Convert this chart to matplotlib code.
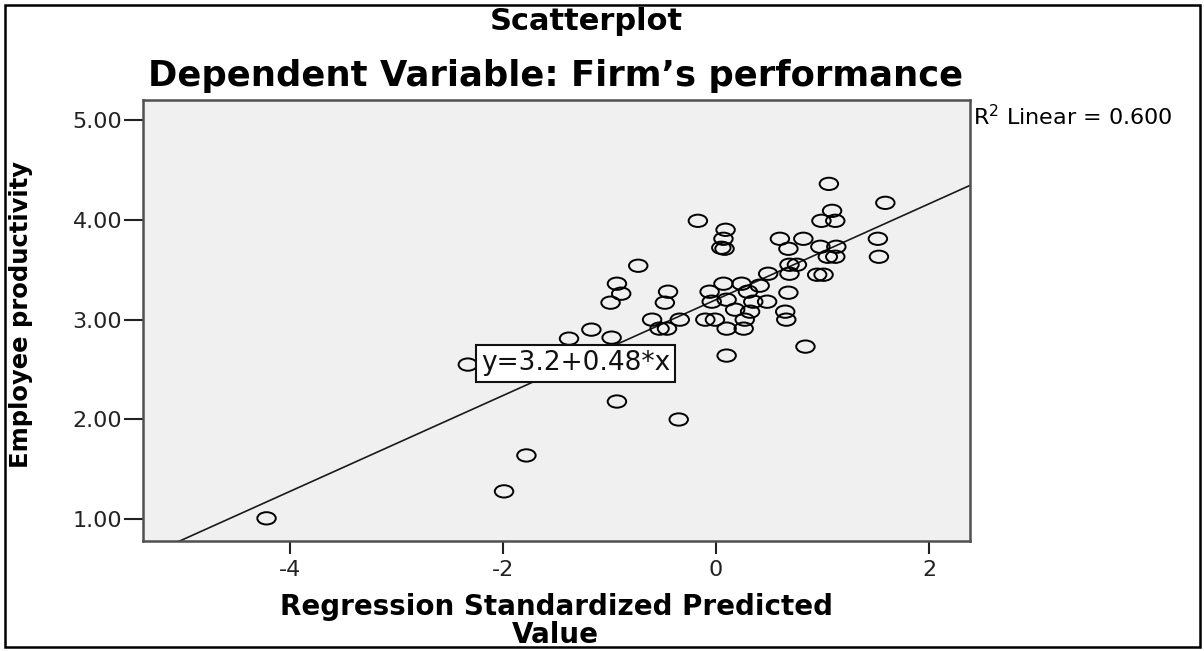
import numpy as np
import matplotlib.pyplot as plt
from matplotlib.path import Path
from matplotlib.transforms import Affine2D
from matplotlib.patches import Rectangle

# regression standardized predicted value (x) and employee productivity (y)
pred_value = [-4.22, -1.99, -1.78, -2.33, -0.99, -0.48, -1.38, -1.17, -0.98, -0.60,
              -0.53, -0.46, -0.34, -0.93, -0.35, -0.17, 0.09, 0.07, 0.05, 0.08,
              -0.73, -0.93, -0.89, -0.45, 0.10, 0.60, 0.82, 0.68, 0.99, 0.76,
              0.69, 0.49, 0.95, 0.41, 0.68, 0.48, 0.65, 0.66, 0.84, 0.07,
              0.24, -0.06, 0.30, -0.04, 0.10, 0.18, 0.35, 0.32, -0.10, -0.01,
              0.10, 0.26, 1.06, 1.59, 1.09, 1.12, 0.98, 1.13, 1.52, 1.05,
              1.12, 1.53, 0.69, 1.01, 0.27]
productivity = [1.01, 1.28, 1.64, 2.55, 3.17, 3.17, 2.81, 2.90, 2.82, 3.00,
                2.91, 2.91, 3.00, 2.18, 2.00, 3.99, 3.90, 3.81, 3.72, 3.71,
                3.54, 3.36, 3.26, 3.28, 2.64, 3.81, 3.81, 3.71, 3.99, 3.55,
                3.46, 3.46, 3.45, 3.34, 3.27, 3.18, 3.08, 3.00, 2.73, 3.36,
                3.36, 3.28, 3.28, 3.18, 3.20, 3.10, 3.18, 3.08, 3.00, 3.00,
                2.91, 2.91, 4.36, 4.17, 4.09, 3.99, 3.73, 3.73, 3.81, 3.63,
                3.63, 3.63, 3.55, 3.45, 3.00]

INTERCEPT = 3.2
SLOPE = 0.48
R2 = 0.600
y_ticks = [1, 2, 3, 4, 5]
x_ticks = [-4, -2, 0, 2]

W, H = 1204, 651
fig = plt.figure(figsize=(W / 100, H / 100), dpi=100)
plt.rcParams['font.family'] = ['DejaVu Sans']


def fx(px):
    return px / W


def fy(py):
    return 1 - py / H


ax = fig.add_axes([fx(143), fy(541), (970 - 143) / W, (541 - 100) / H])
ax.set_facecolor('#f0f0f0')
ax.set_xlim(-5.38, 2.385)
ax.set_ylim(0.783, 5.20)

# spss style circles come out wider than tall in the picture
ellipse = Path.unit_circle().transformed(Affine2D().scale(1.5, 1.0))
ax.scatter(pred_value, productivity, marker=ellipse, s=13.3 ** 2,
           facecolors='none', edgecolors='black', linewidths=1.4, zorder=3)

xs = np.array(ax.get_xlim())
ax.plot(xs, INTERCEPT + SLOPE * xs, color='#1a1a1a', lw=1.2, zorder=2)
ax.set_xlim(-5.38, 2.385)
ax.set_ylim(0.783, 5.20)

ax.text(0.523, 0.4025, f'y={INTERCEPT}+{SLOPE}*x', transform=ax.transAxes,
        ha='center', va='center', fontsize=19, color='#111111', zorder=5,
        bbox=dict(boxstyle='square,pad=0.2', fc='white', ec='#111111', lw=1.5))

ax.set_yticks(y_ticks)
ax.set_yticklabels([f'{v:.2f}' for v in y_ticks])
ax.set_xticks(x_ticks)
ax.set_xticklabels([str(v) for v in x_ticks])
ax.tick_params(axis='y', length=14, width=1.5, pad=1, labelsize=16, colors='#222222')
ax.tick_params(axis='x', length=9.5, width=1.5, pad=4, labelsize=16, colors='#222222')
for sp in ax.spines.values():
    sp.set_color('#505050')
    sp.set_linewidth(1.8)

fig.text(fx(586), fy(30), 'Scatterplot', ha='center', va='baseline',
         fontsize=22, weight='bold')
fig.text(fx(556), fy(86), 'Dependent Variable: Firm\u2019s performance',
         ha='center', va='baseline', fontsize=25.5, weight='bold')
fig.text(fx(973), fy(125), f'R$^2$ Linear = {R2:.3f}', ha='left', va='baseline',
         fontsize=16)
fig.text(fx(556), fy(615), 'Regression Standardized Predicted', ha='center',
         va='baseline', fontsize=20, weight='bold')
fig.text(fx(555), fy(643), 'Value', ha='center', va='baseline',
         fontsize=20, weight='bold')
fig.text(fx(21), fy(315), 'Employee productivity', rotation=90, ha='center',
         va='center', fontsize=17.5, weight='bold')

# frame round the whole picture
fig.patches.append(Rectangle((fx(5), fy(647)), (1200 - 5) / W, (647 - 5) / H,
                             transform=fig.transFigure, fill=False,
                             ec='black', lw=1.8, zorder=10))

fig.savefig('out.png', dpi=100)
